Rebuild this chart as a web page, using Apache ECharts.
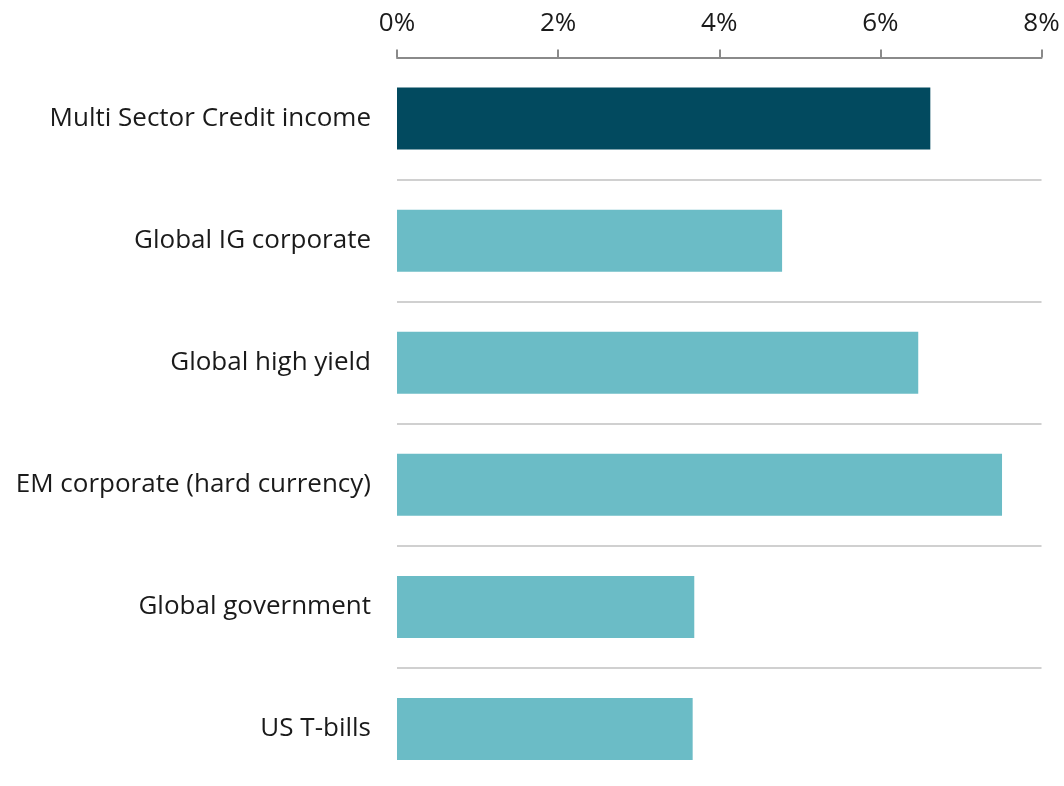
<!DOCTYPE html>
<html>
<head>
<meta charset="utf-8">
<script src="https://cdn.jsdelivr.net/npm/echarts@6/dist/echarts.min.js"></script>
<style>
  html, body { margin: 0; padding: 0; background: #fff; overflow: hidden; }
  /* chart area runs a few pixels below the window so the last band is cut like the others */
  #chart { width: 1064px; height: 790px; }
</style>
</head>
<body>
<div id="chart"></div>
<script>
// Yield by asset class (%)
const categories = [
  'Multi Sector Credit income',
  'Global IG corporate',
  'Global high yield',
  'EM corporate (hard currency)',
  'Global government',
  'US T-bills'
];
const yields = [6.62, 4.78, 6.47, 7.51, 3.69, 3.67];
const highlightIndex = 0;

const DARK = '#024a5f';
const LIGHT = '#6bbcc6';

const chart = echarts.init(document.getElementById('chart'), null, { renderer: 'canvas' });

chart.setOption({
  animation: false,
  textStyle: { fontFamily: '"Open Sans", Lato, sans-serif' },
  grid: { left: 397, right: 22.5, top: 57.5, bottom: 0, containLabel: false },
  xAxis: {
    type: 'value',
    position: 'top',
    min: 0,
    max: 8,
    interval: 2,
    axisLine: { show: true, lineStyle: { color: '#8a8a8a', width: 2 } },
    axisTick: { show: true, length: 8, lineStyle: { color: '#8a8a8a', width: 2 } },
    axisLabel: {
      formatter: v => v + '%',
      color: '#1a1a1a',
      fontSize: 26,
      margin: 21
    },
    splitLine: { show: false }
  },
  yAxis: {
    type: 'category',
    inverse: true,
    data: categories,
    axisLine: { show: false },
    axisTick: { show: false },
    axisLabel: { color: '#1a1a1a', fontSize: 26, margin: 26 },
    splitLine: { show: true, lineStyle: { color: '#d0d0d0', width: 2 } }
  },
  series: [{
    type: 'bar',
    barWidth: 62,
    data: yields.map((v, i) => ({
      value: v,
      itemStyle: { color: i === highlightIndex ? DARK : LIGHT }
    }))
  }]
});
</script>
</body>
</html>
